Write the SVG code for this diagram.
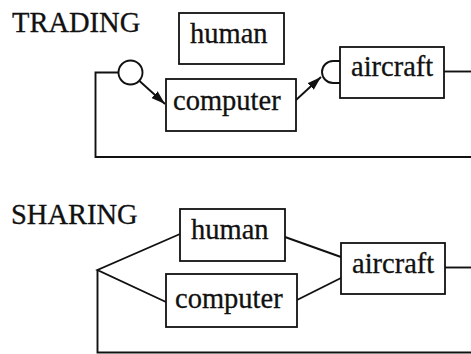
<svg xmlns="http://www.w3.org/2000/svg" width="471" height="354" viewBox="0 0 471 354">
<defs>
<style>
.box{fill:#fff;stroke:#111;stroke-width:1.8}
.ln{fill:none;stroke:#111;stroke-width:1.9}
.t{font-family:"Liberation Serif","Times New Roman",serif;font-size:28.5px;fill:#111;stroke:#111;stroke-width:0.3}
</style>
<marker id="ah" viewBox="0 0 14 9" refX="14" refY="4.5" markerWidth="14" markerHeight="9" markerUnits="userSpaceOnUse" orient="auto">
<path d="M0,0 L14,4.5 L0,9 Z" fill="#111"/>
</marker>
</defs>
<text class="t" x="12" y="32">TRADING</text>
<text class="t" x="11" y="224">SHARING</text>
<g id="connectors">
<path class="ln" d="M118,72.5 H95.5 V157 H471"/>
<circle class="ln" cx="130.5" cy="72.5" r="12"/>
<path class="ln" d="M139.5,81 L165,104" marker-end="url(#ah)"/>
<path class="ln" d="M340,61 H333 A11,11 0 0 0 333,83 H340"/>
<path class="ln" d="M296,100 L321,77" marker-end="url(#ah)"/>
<path class="ln" d="M444,71.5 H471"/>
<path class="ln" d="M180,234 L97.5,270 L166,302"/>
<path class="ln" d="M97.5,270 V352.5 H471"/>
<path class="ln" d="M285,237 L341,257"/>
<path class="ln" d="M297,300 L341,278"/>
<path class="ln" d="M445,267.5 H471"/>
</g>
<g id="trading-human"><rect class="box" x="179" y="13" width="105" height="51"/><text class="t" x="190" y="43">human</text></g>
<g id="trading-computer"><rect class="box" x="166" y="79" width="130" height="52"/><text class="t" x="173" y="110">computer</text></g>
<g id="trading-aircraft"><rect class="box" x="340" y="47" width="104" height="51"/><text class="t" x="351" y="76">aircraft</text></g>
<g id="sharing-human"><rect class="box" x="180" y="209" width="105" height="52"/><text class="t" x="191" y="239">human</text></g>
<g id="sharing-computer"><rect class="box" x="166" y="274" width="131" height="53"/><text class="t" x="175" y="308">computer</text></g>
<g id="sharing-aircraft"><rect class="box" x="341" y="243" width="104" height="51"/><text class="t" x="352" y="273">aircraft</text></g>
</svg>
